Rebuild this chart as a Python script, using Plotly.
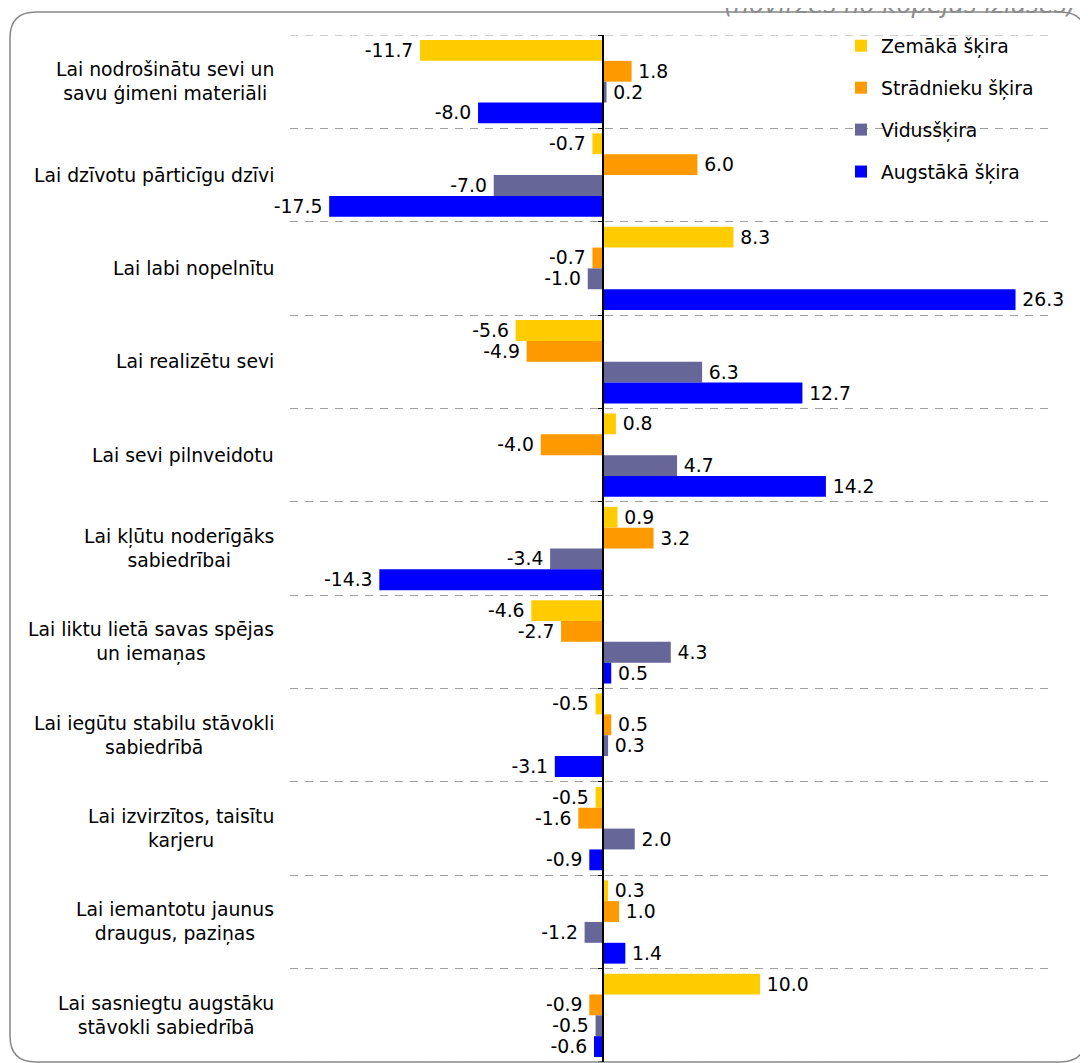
import plotly.graph_objects as go

categories = [
    "Lai nodrošinātu sevi un<br>savu ģimeni materiāli",
    "Lai dzīvotu pārticīgu dzīvi",
    "Lai labi nopelnītu",
    "Lai realizētu sevi",
    "Lai sevi pilnveidotu",
    "Lai kļūtu noderīgāks<br>sabiedrībai",
    "Lai liktu lietā savas spējas<br>un iemaņas",
    "Lai iegūtu stabilu stāvokli<br>sabiedrībā",
    "Lai izvirzītos, taisītu<br>karjeru",
    "Lai iemantotu jaunus<br>draugus, paziņas",
    "Lai sasniegtu augstāku<br>stāvokli sabiedrībā",
]

series_names = ["Zemākā šķira", "Strādnieku šķira", "Vidusšķira", "Augstākā šķira"]
zemaka = [-11.7, -0.7, 8.3, -5.6, 0.8, 0.9, -4.6, -0.5, -0.5, 0.3, 10.0]
stradnieku = [1.8, 6.0, -0.7, -4.9, -4.0, 3.2, -2.7, 0.5, -1.6, 1.0, -0.9]
vidus = [0.2, -7.0, -1.0, 6.3, 4.7, -3.4, 4.3, 0.3, 2.0, -1.2, -0.5]
augstaka = [-8.0, -17.5, 26.3, 12.7, 14.2, -14.3, 0.5, -3.1, -0.9, 1.4, -0.6]
series_values = [zemaka, stradnieku, vidus, augstaka]
colors = ["#FFCC00", "#FF9900", "#666699", "#0000FF"]

title_text = "(novirzes no kopējās izlases)"

W, H = 1088, 1063
OFF = 8  # page body margin
ML, MR, MT, MB = 282, 46, 27, 9
PW = W - ML - MR
PH = H - MT - MB
FONT = "DejaVu Sans"
FS = 18.8
X_RANGE = [-20, 28.5]
GRID_COLOR = "#a0a0a0"
GRID_DASH = "8px,7px"


def px_x(p):
    return (p - OFF - ML) / PW


def px_y(p):
    return (H - MB - (p - OFF)) / PH


def label(v):
    s = f"{v:.1f}"
    return s + "\u2009" if v < 0 else "\u2009" + s


fig = go.Figure()
for name, vals, col in zip(series_names, series_values, colors):
    fig.add_trace(go.Bar(
        y=categories, x=vals, name=name, orientation="h",
        marker=dict(color=col, line=dict(width=0)),
        text=[label(v) for v in vals],
        textposition="outside", cliponaxis=False, constraintext="none",
        textfont=dict(family=FONT, size=FS, color="black"),
        legendgroup=name,
    ))

annotations = []
for c in categories:
    annotations.append(dict(
        x=px_x(276), xref="paper", y=c, yref="y", text=c, showarrow=False,
        xanchor="right", align="center",
        font=dict(family=FONT, size=FS, color="black"),
    ))
annotations.append(dict(
    x=px_x(1078), xref="paper", y=px_y(5), yref="paper", text=title_text,
    showarrow=False, xanchor="right", yanchor="middle",
    font=dict(family=FONT, size=24.5, color="#8c8c8c", style="italic"),
))

# rounded border box
L, T, R, B, r = 10, 12, 1086, 1062, 26
rx, ry = r / PW, r / PH
x0, x1, y0, y1 = px_x(L), px_x(R), px_y(B), px_y(T)
path = (f"M{x0 + rx},{y1} L{x1 - rx},{y1} Q{x1},{y1} {x1},{y1 - ry} "
        f"L{x1},{y0 + ry} Q{x1},{y0} {x1 - rx},{y0} "
        f"L{x0 + rx},{y0} Q{x0},{y0} {x0},{y0 + ry} "
        f"L{x0},{y1 - ry} Q{x0},{y1} {x0 + rx},{y1} Z")

shapes = [dict(type="path", path=path, xref="paper", yref="paper",
               line=dict(color="#888888", width=1.5), layer="below")]
# outer category boundaries (grid lines + ticks at plot edges)
n = len(categories)
tick_len = 5 / PW * (X_RANGE[1] - X_RANGE[0])
for yb in (-0.5, n - 0.5):
    shapes.append(dict(type="line", xref="paper", yref="y", x0=0, x1=1,
                       y0=yb, y1=yb, layer="below",
                       line=dict(color=GRID_COLOR, width=1, dash=GRID_DASH)))
    shapes.append(dict(type="line", xref="x", yref="y", x0=-tick_len, x1=0,
                       y0=yb, y1=yb, line=dict(color="black", width=1)))

fig.update_layout(
    width=W, height=H,
    margin=dict(l=ML, r=MR, t=MT, b=MB, autoexpand=False),
    paper_bgcolor="white", plot_bgcolor="white",
    barmode="group", bargap=0.107, bargroupgap=0,
    font=dict(family=FONT, size=FS, color="black"),
    showlegend=True,
    legend=dict(x=px_x(841), y=px_y(27), xanchor="left", yanchor="top",
                bgcolor="rgba(0,0,0,0)", font=dict(family=FONT, size=FS),
                traceorder="grouped", tracegroupgap=14.5),
    xaxis=dict(range=X_RANGE, showgrid=False, zeroline=False,
               showticklabels=False, showline=False, fixedrange=True),
    yaxis=dict(type="category", categoryorder="array", categoryarray=categories,
               range=[n - 0.5, -0.5], anchor="free",
               position=-X_RANGE[0] / (X_RANGE[1] - X_RANGE[0]),
               showline=True, linecolor="black", linewidth=1.5,
               ticks="outside", ticklen=5, tickcolor="black", tickwidth=1,
               tickson="boundaries", showticklabels=False,
               showgrid=True, gridcolor=GRID_COLOR, gridwidth=1,
               griddash=GRID_DASH, zeroline=False),
    annotations=annotations,
    shapes=shapes,
)

fig.write_html("out.html")
